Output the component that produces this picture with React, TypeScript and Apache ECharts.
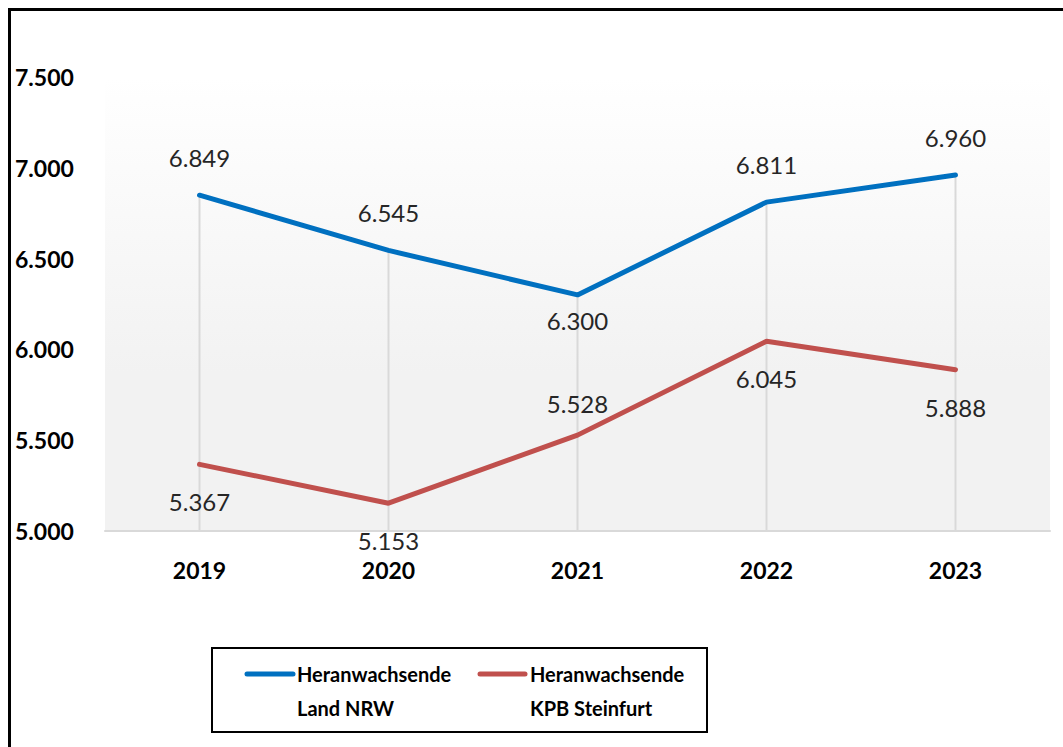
import React, { useEffect, useRef } from "react";
import * as echarts from "echarts";

const years = ["2019", "2020", "2021", "2022", "2023"];
const nrwValues = [6849, 6545, 6300, 6811, 6960];
const steinfurtValues = [5367, 5153, 5528, 6045, 5888];
const yTicks = [5000, 5500, 6000, 6500, 7000, 7500];
const nrwName = "Heranwachsende\nLand NRW";
const steinfurtName = "Heranwachsende\nKPB Steinfurt";

const FONT = "Lato, 'Open Sans', sans-serif";
const BLUE = "#0070C0";
const RED = "#C0504D";

const fmt = (v: number) => {
  const s = Math.round(v).toString();
  return s.length > 3 ? s.slice(0, s.length - 3) + "." + s.slice(s.length - 3) : s;
};

export default function App() {
  const ref = useRef<HTMLDivElement>(null);
  useEffect(() => {
    if (!ref.current) return;
    const chart = echarts.init(ref.current, undefined, { renderer: "svg" });

    const nrwSide = ["top", "top", "bottom", "top", "top"];
    const stSide = ["bottom", "bottom", "top", "bottom", "bottom"];

    const labelStyle = {
      show: true,
      fontFamily: FONT,
      fontSize: 24,
      color: "#262626",
      formatter: (p: any) => fmt(p.value),
    };

    const nrwData = nrwValues.map((v, i) => ({
      value: v,
      label: { position: nrwSide[i], distance: nrwSide[i] === "top" ? 24 : 12 },
    }));
    const stData = steinfurtValues.map((v, i) => ({
      value: v,
      label: { position: stSide[i], distance: stSide[i] === "top" ? 18 : 24 },
    }));
    const dropValues = nrwValues.map((v, i) => Math.max(v, steinfurtValues[i]));

    const legendItems = [
      { name: nrwName, color: BLUE, x1: 247, x2: 293, tx: 297 },
      { name: steinfurtName, color: RED, x1: 480, x2: 525, tx: 530 },
    ];

    const graphics: any[] = [
      {
        type: "rect",
        shape: { x: 9.5, y: 9.5, width: 1200, height: 900 },
        style: { fill: "none", stroke: "#000", lineWidth: 3 },
        silent: true,
        z: 10,
      },
      {
        type: "rect",
        shape: { x: 212, y: 648, width: 495, height: 84 },
        style: { fill: "#fff", stroke: "#000", lineWidth: 2 },
        silent: true,
      },
    ];
    legendItems.forEach((it) => {
      graphics.push({
        type: "line",
        shape: { x1: it.x1, y1: 674, x2: it.x2, y2: 674 },
        style: { stroke: it.color, lineWidth: 5, lineCap: "round" },
        silent: true,
      });
      const lines = it.name.split("\n");
      lines.forEach((t, k) => {
        graphics.push({
          type: "text",
          x: it.tx,
          y: 674 + k * 34,
          style: {
            text: t,
            fontFamily: FONT,
            fontWeight: "bold",
            fontSize: 20,
            fill: "#000",
            verticalAlign: "middle",
            align: "left",
          },
          silent: true,
        });
      });
    });

    chart.setOption({
      animation: false,
      backgroundColor: "#fff",
      grid: {
        left: 105,
        right: 13,
        top: 77,
        height: 454,
        show: true,
        borderWidth: 0,
        backgroundColor: new echarts.graphic.LinearGradient(0, 0, 0, 1, [
          { offset: 0, color: "#ffffff" },
          { offset: 0.65, color: "#f2f2f2" },
          { offset: 1, color: "#f2f2f2" },
        ]),
      },
      xAxis: {
        type: "category",
        data: years,
        boundaryGap: true,
        axisLine: { show: true, lineStyle: { color: "#d9d9d9", width: 2 } },
        axisTick: { show: false },
        splitLine: { show: false },
        axisLabel: {
          margin: 27,
          fontFamily: FONT,
          fontWeight: "bold",
          fontSize: 23,
          color: "#000",
        },
      },
      yAxis: {
        type: "value",
        min: yTicks[0],
        max: yTicks[yTicks.length - 1],
        interval: yTicks[1] - yTicks[0],
        axisLine: { show: false },
        axisTick: { show: false },
        splitLine: { show: false },
        axisLabel: {
          align: "left",
          margin: 90,
          fontFamily: FONT,
          fontWeight: "bold",
          fontSize: 23,
          color: "#000",
          formatter: (v: number) => fmt(v),
        },
      },
      series: [
        {
          type: "bar",
          name: "drop",
          data: dropValues,
          barWidth: 2,
          itemStyle: { color: "#d9d9d9" },
          silent: true,
          z: 1,
        },
        {
          type: "line",
          name: nrwName,
          data: nrwData,
          symbol: "circle",
          symbolSize: 3,
          showSymbol: true,
          lineStyle: { color: BLUE, width: 5, cap: "round" },
          itemStyle: { color: BLUE },
          label: labelStyle,
          labelLayout: { hideOverlap: false },
          z: 3,
        },
        {
          type: "line",
          name: steinfurtName,
          data: stData,
          symbol: "circle",
          symbolSize: 3,
          showSymbol: true,
          lineStyle: { color: RED, width: 5, cap: "round" },
          itemStyle: { color: RED },
          label: labelStyle,
          labelLayout: { hideOverlap: false },
          z: 3,
        },
      ],
      graphic: graphics,
    });
    return () => chart.dispose();
  }, []);
  return (
    <div
      ref={ref}
      style={{ position: "fixed", left: 0, top: 0, width: 1063, height: 747 }}
    />
  );
}
